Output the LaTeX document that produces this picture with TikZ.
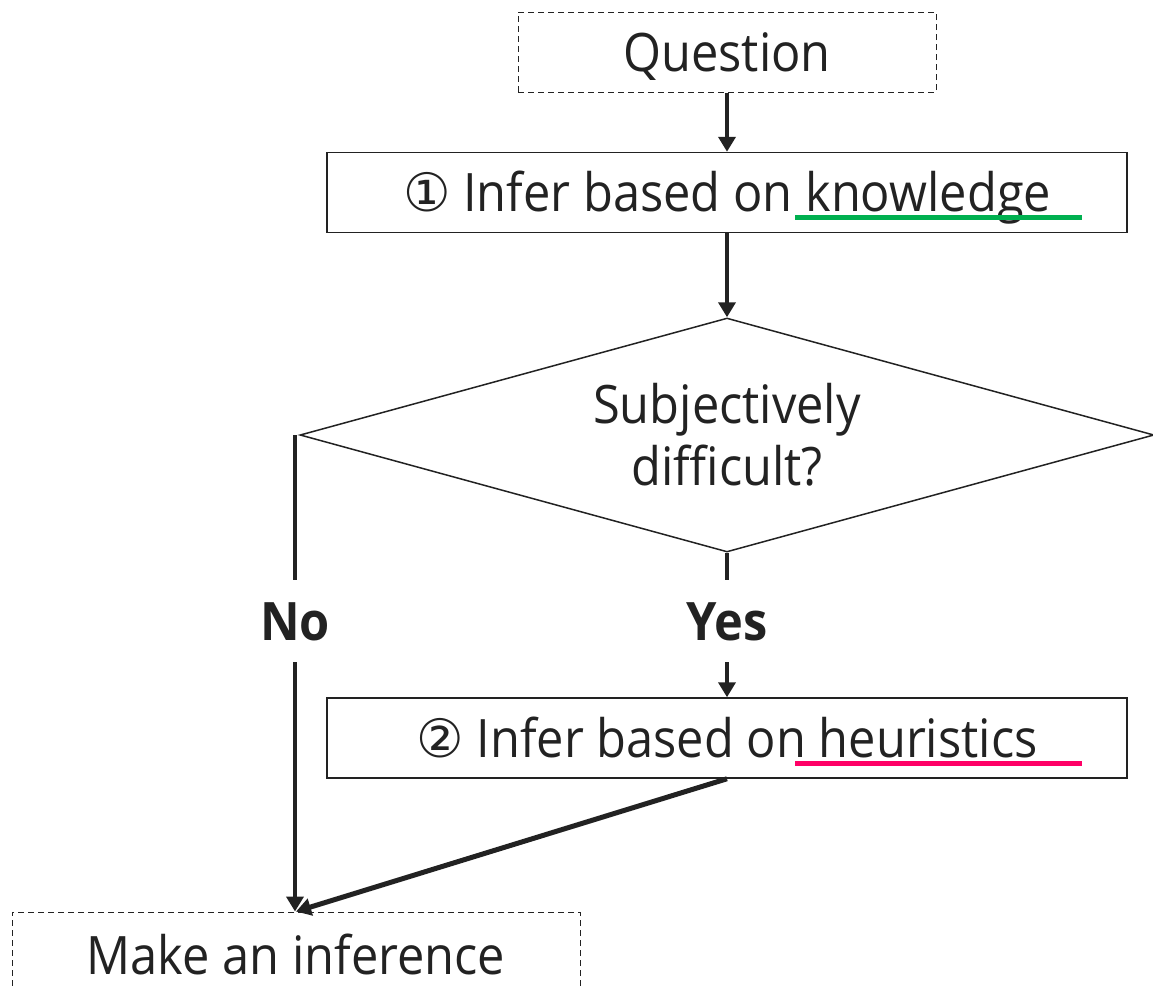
\documentclass[tikz,border=0pt]{standalone}
\usepackage{fontspec}
\setmainfont[FakeStretch=0.92]{Open Sans}
\newfontfamily\symfont{DejaVu Sans}
\usetikzlibrary{shapes.geometric,arrows.meta}
\definecolor{ink}{HTML}{222222}
\definecolor{knowgreen}{HTML}{00B050}
\definecolor{heurpink}{HTML}{FF0066}
\begin{document}
\begin{tikzpicture}[x=1pt,y=-1pt,
  font=\fontsize{53}{62}\selectfont,
  every node/.style={text=ink},
  capline/.style={text height=38pt,text depth=0pt},
  stepbox/.style={draw=ink,line width=1.5pt,inner sep=0pt,minimum width=800pt,minimum height=80pt,capline},
  termbox/.style={draw=ink,line width=1pt,dash pattern=on 6pt off 4pt,inner sep=0pt,capline},
  decision/.style={diamond,aspect=3.65,draw=ink,line width=1.5pt,inner sep=0pt,minimum width=854pt,minimum height=234pt,align=center},
  answer/.style={font=\fontsize{53}{62}\selectfont\bfseries,inner sep=0pt,minimum height=82pt,capline},
  flow/.style={draw=ink,line width=4pt,-{Triangle[width=17pt,length=15pt]}},
  link/.style={draw=ink,line width=4pt},
  mark line/.style={line width=5pt}]
\useasboundingbox (0,0) rectangle (1153,989);

% boxes of the flow
\node[termbox,minimum width=418pt,minimum height=80pt] (q) at (727,52) {Question};
\node[stepbox] (b1) at (727,192.5) {{\symfont ①} Infer based on knowledge};
\node[decision] (d) at (727,435) {Subjectively\\difficult?};
\node[answer] (no) at (295,621) {No};
\node[answer] (yes) at (727,621) {Yes};
\node[stepbox] (b2) at (727,738) {{\symfont ②} Infer based on heuristics};
\node[termbox,minimum width=568pt,minimum height=86pt] (mi) at (296,955) {Make an inference};

% coloured underlines of the key words
\draw[knowgreen,mark line] ([shift={(68,25)}]b1.center) -- ([shift={(355,25)}]b1.center);
\draw[heurpink,mark line] ([shift={(68,25)}]b2.center) -- ([shift={(355,25)}]b2.center);

% connectors
\draw[flow] (q.south) -- (b1.north);
\draw[flow] (b1.south) -- (d.north);
\draw[link] (d.west -| no.north) -- (no.north);
\draw[flow] (no.south) -- (no.south |- mi.north);
\draw[link] (d.south) -- (yes.north);
\draw[flow] (yes.south) -- (b2.north);
\draw[flow,line width=5pt] (b2.south) -- (mi.north);
\end{tikzpicture}
\end{document}
